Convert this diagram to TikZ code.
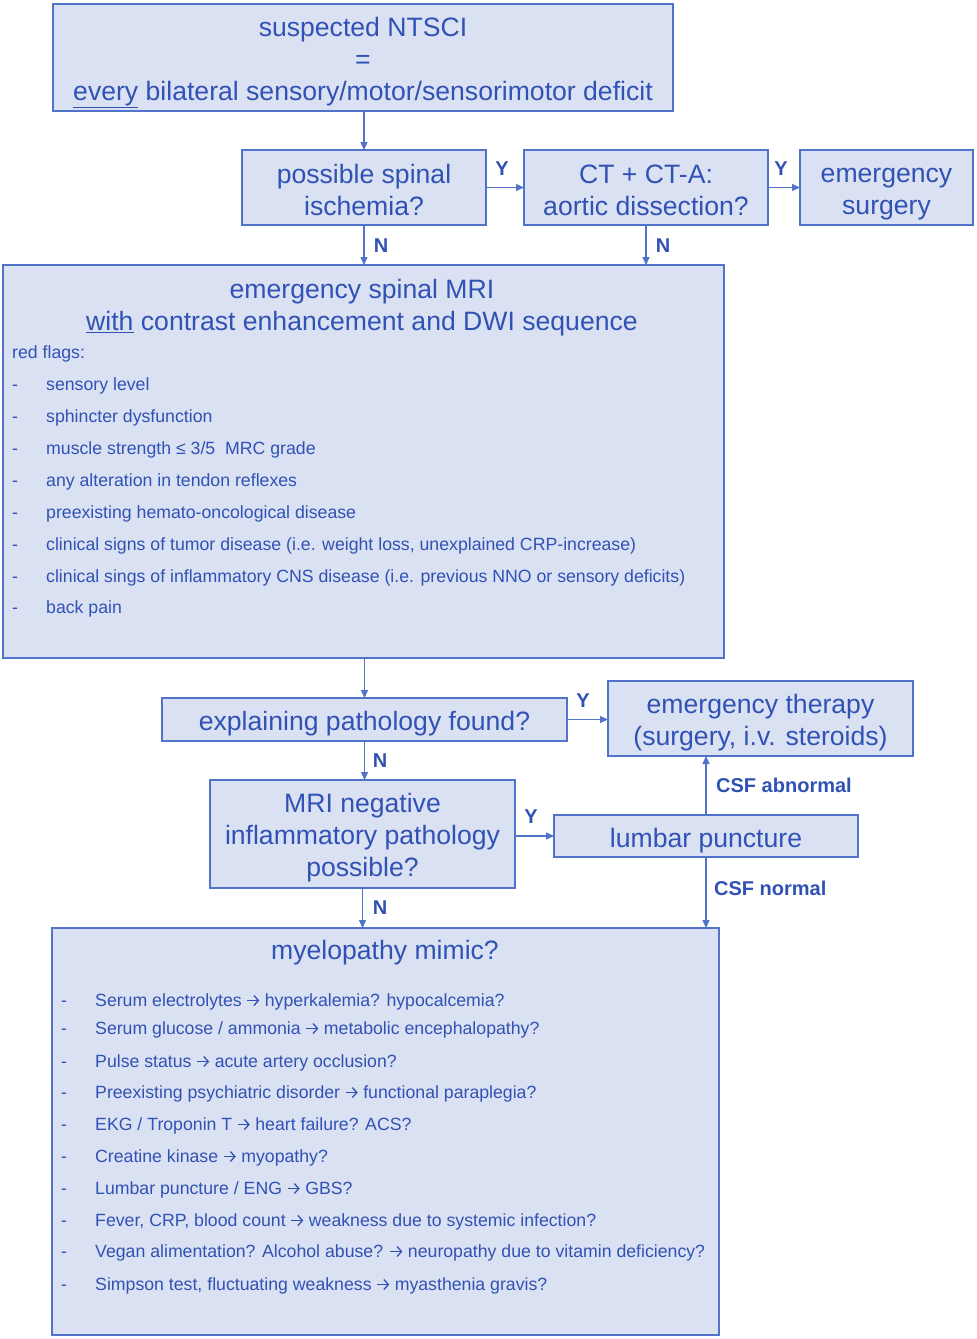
\documentclass[tikz,border=0pt]{standalone}
\usepackage{fontspec}
\setmainfont{Liberation Sans}
\usetikzlibrary{arrows.meta,positioning}
\definecolor{bg}{HTML}{DAE1F2}
\definecolor{bd}{HTML}{5173C9}
\definecolor{tc}{HTML}{3152B5}
\newcommand{\bigf}{\fontsize{26.6}{32}\selectfont}
\newcommand{\smf}{\fontsize{17.7}{32}\selectfont}
\newcommand{\lblf}{\fontsize{20}{22}\selectfont\bfseries}
\newcommand{\sst}{\rule[-4pt]{0pt}{26pt}}
\newcommand{\ar}{\tikz[baseline=0pt,x=1pt,y=1pt]\draw[draw=tc,line width=1.3pt,
  -{Straight Barb[length=4.5pt,width=10pt,line width=1.3pt]}] (0,5.5) -- (12,5.5);}
\tikzset{
  box/.style={draw=bd, fill=bg, line width=1.3pt, inner sep=0pt, outer sep=0pt},
  btxt/.style={text=tc, font=\bigf, align=center, inner sep=0pt},
  arr/.style={draw=bd, line width=1.3pt, -{Triangle[length=8pt,width=7pt]}},
  lbl/.style={text=tc, font=\lblf, inner sep=0pt},
  item/.style={text=tc, font=\smf, inner sep=0pt, anchor=base west},
}
\begin{document}
\begin{tikzpicture}[x=1pt,y=-1pt]
\fill[white] (0,0) rectangle (977,1339);
\useasboundingbox (0,0) rectangle (977,1339);

\node[box, minimum width=620pt, minimum height=107pt] (top) at (363,57.5) {};
\node[btxt] (topt) at ([yshift=-4pt]top.center)
  {\sst suspected NTSCI\\\sst =\\\sst \underline{every} bilateral sensory/motor/sensorimotor deficit};
\node[box, minimum width=244pt, minimum height=75pt] (isch) at (364,187.5) {};
\node[btxt] (ischt) at ([yshift=-2.5pt]isch.center) {\sst possible spinal\\\sst ischemia?};
\node[box, minimum width=244pt, minimum height=75pt] (ct) at (646,187.5) {};
\node[btxt] (ctt) at ([yshift=-2.5pt]ct.center) {\sst CT + CT-A:\\\sst aortic dissection?};
\node[box, minimum width=173pt, minimum height=75pt] (surg) at (886.5,187.5) {};
\node[btxt] (surgt) at ([yshift=-3pt]surg.center) {\sst emergency\\\sst surgery};
\node[box, minimum width=721pt, minimum height=393pt] (mri) at (363.5,461.5) {};
\node[btxt] (mrit) at (362,306)
  {\sst emergency spinal MRI\\\sst \underline{with} contrast enhancement and DWI sequence};
\node[item] (rf) at (12,358) {red flags:};
\foreach \y/\t [count=\i] in {384/{sensory level},416/{sphincter dysfunction},
  448/{muscle strength ≤ 3/5\ \ MRC grade},480/{any alteration in tendon reflexes},
  512/{preexisting hemato-oncological disease},
  544/{clinical signs of tumor disease (i.e. weight loss, unexplained CRP-increase)},
  576/{clinical sings of inflammatory CNS disease (i.e. previous NNO or sensory deficits)},
  607/{back pain}}{
  \node[item] (rfd\i) at (12,\y+6) {-};
  \node[item] (rft\i) at (46,\y+6) {\t};
}
\node[box, minimum width=405pt, minimum height=43pt] (exp) at (364.5,719.5) {};
\node[btxt] (expt) at ([yshift=-3pt]exp.center) {\sst explaining pathology found?};
\node[box, minimum width=305pt, minimum height=75pt] (ther) at (760.5,718.5) {};
\node[btxt] (thert) at ([yshift=-2.5pt]ther.center)
  {\sst emergency therapy\\\sst (surgery, i.v. steroids)};
\node[box, minimum width=305pt, minimum height=108pt] (neg) at (362.5,834) {};
\node[btxt] (negt) at ([yshift=-2.5pt]neg.center)
  {\sst MRI negative\\\sst inflammatory pathology\\\sst possible?};
\node[box, minimum width=304pt, minimum height=42pt] (lp) at (706,836) {};
\node[btxt] (lpt) at ([yshift=-3pt]lp.center) {\sst lumbar puncture};
\node[box, minimum width=667pt, minimum height=407pt] (mim) at (385.5,1131.5) {};
\node[btxt] (mimt) at (385,951) {\sst myelopathy mimic?};
\foreach \y/\t [count=\i] in {1000/{Serum electrolytes \ar{} hyperkalemia? hypocalcemia?},
  1028/{Serum glucose / ammonia \ar{} metabolic encephalopathy?},
  1061/{Pulse status\ \ar{} acute artery occlusion?},
  1092/{Preexisting psychiatric disorder \ar{} functional paraplegia?},
  1124/{EKG / Troponin T \ar{} heart failure? ACS?},
  1156/{Creatine kinase \ar{} myopathy?},
  1188/{Lumbar puncture / ENG \ar{} GBS?},
  1220/{Fever, CRP, blood count \ar{} weakness due to systemic infection?},
  1251/{Vegan alimentation? Alcohol abuse? \ar{} neuropathy due to vitamin deficiency?},
  1284/{Simpson test, fluctuating weakness \ar{} myasthenia gravis?}}{
  \node[item] (mmd\i) at (61,\y+6) {-};
  \node[item] (mmt\i) at (95,\y+6) {\t};
}

% connectors
\draw[arr] (isch.north |- top.south) -- (isch.north);
\draw[arr] (isch.east) -- (ct.west);
\draw[arr] (ct.east) -- (surg.west);
\draw[arr] (isch.south) -- (isch.south |- mri.north);
\draw[arr] (ct.south) -- (ct.south |- mri.north);
\draw[arr] (exp.north |- mri.south) -- (exp.north);
\draw[arr] (exp.east) -- (exp.east -| ther.west);
\draw[arr] (exp.south) -- (exp.south |- neg.north);
\draw[arr] (lp.west -| neg.east) -- (lp.west);
\draw[arr] (lp.north) -- (lp.north |- ther.south);
\draw[arr] (lp.south) -- (lp.south |- mim.north);
\draw[arr] (neg.south) -- (neg.south |- mim.north);

% labels
\node[lbl] (y1) at (502,169) {Y};
\node[lbl] (y2) at (781,169) {Y};
\node[lbl] (n1) at (381,246) {N};
\node[lbl] (n2) at (663,246) {N};
\node[lbl] (y3) at (583,701) {Y};
\node[lbl] (n3) at (380,761) {N};
\node[lbl] (y4) at (531,817) {Y};
\node[lbl] (n4) at (380,908) {N};
\node[lbl, anchor=west] (csfa) at (716,785) {CSF abnormal};
\node[lbl, anchor=west] (csfn) at (714,888) {CSF normal};
\end{tikzpicture}
\end{document}
